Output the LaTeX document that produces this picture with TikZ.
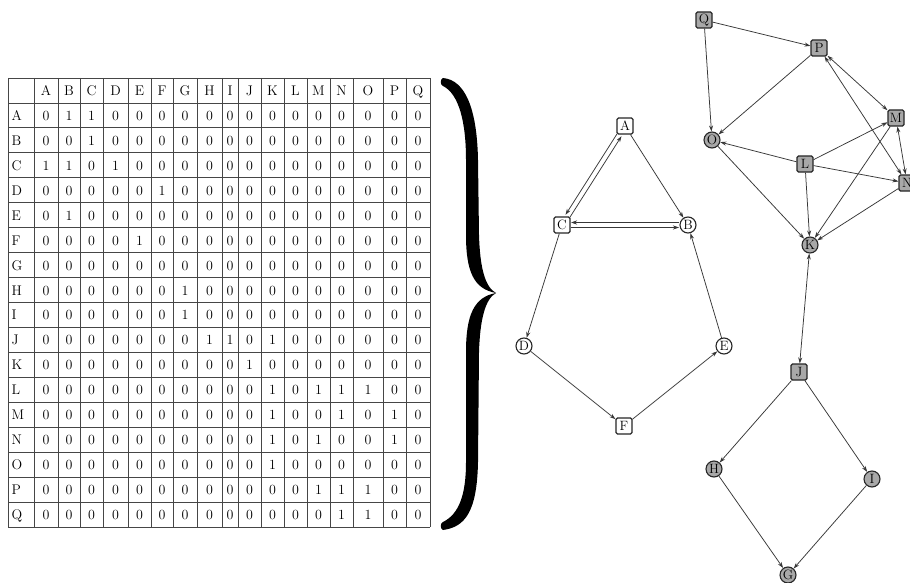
\documentclass[tikz,border=0pt]{standalone}
\usetikzlibrary{arrows.meta,calc}
\definecolor{edgecol}{RGB}{55,55,55}
\definecolor{nodegray}{RGB}{168,168,168}
\definecolor{gridcol}{RGB}{70,70,70}
\begin{document}
\begin{tikzpicture}[x=1pt,y=-1pt,
  cell/.style={anchor=base,inner sep=0pt,font=\fontsize{14}{16}\selectfont},
  nd/.style={draw=black!85,line width=1.1pt,inner sep=0pt,font=\fontsize{13.5}{14}\selectfont},
  sq/.style={nd,rectangle,rounded corners=1.5pt,minimum size=16pt},
  ci/.style={nd,circle,minimum size=16pt},
  wh/.style={fill=white},
  gy/.style={fill=nodegray},
  edge/.style={draw=edgecol,line width=0.75pt,-{Stealth[length=6pt,width=4pt]}},
  bedge/.style={draw=edgecol,line width=0.75pt,{Stealth[length=6pt,width=4pt]}-{Stealth[length=6pt,width=4pt]}},
  gridline/.style={draw=gridcol,line width=0.8pt}]
\clip (0,0) rectangle (910,583);
\fill[white] (0,0) rectangle (910,583);

% ---- table grid ----
\foreach \k in {0,...,18} \draw[gridline] (8,{78+24.944*\k}) -- (430,{78+24.944*\k});
\foreach \x in {8,34,58,80,103,128,151,173,197,222,238,261,284,307,330,353,383,406,430}
  \draw[gridline] (\x,78) -- (\x,527);

\def\colc{{46,69,91.5,115.5,139.5,162,185,209.5,230,249.5,272.5,295.5,318.5,341.5,368,394.5,418}}
\foreach \l [count=\c] in {A,...,Q} {
  \pgfmathsetmacro\cx{\colc[\c-1]}
  \node[cell] (h\l) at (\cx,95.5) {\l};
  \pgfmathsetmacro\ry{78+24.944*\c+17.5}
  \node[cell,anchor=base west] (r\l) at (11.5,\ry) {\l};
}
\foreach \vals [count=\r] in {
  {0,1,1,0,0,0,0,0,0,0,0,0,0,0,0,0,0},
  {0,0,1,0,0,0,0,0,0,0,0,0,0,0,0,0,0},
  {1,1,0,1,0,0,0,0,0,0,0,0,0,0,0,0,0},
  {0,0,0,0,0,1,0,0,0,0,0,0,0,0,0,0,0},
  {0,1,0,0,0,0,0,0,0,0,0,0,0,0,0,0,0},
  {0,0,0,0,1,0,0,0,0,0,0,0,0,0,0,0,0},
  {0,0,0,0,0,0,0,0,0,0,0,0,0,0,0,0,0},
  {0,0,0,0,0,0,1,0,0,0,0,0,0,0,0,0,0},
  {0,0,0,0,0,0,1,0,0,0,0,0,0,0,0,0,0},
  {0,0,0,0,0,0,0,1,1,0,1,0,0,0,0,0,0},
  {0,0,0,0,0,0,0,0,0,1,0,0,0,0,0,0,0},
  {0,0,0,0,0,0,0,0,0,0,1,0,1,1,1,0,0},
  {0,0,0,0,0,0,0,0,0,0,1,0,0,1,0,1,0},
  {0,0,0,0,0,0,0,0,0,0,1,0,1,0,0,1,0},
  {0,0,0,0,0,0,0,0,0,0,1,0,0,0,0,0,0},
  {0,0,0,0,0,0,0,0,0,0,0,0,1,1,1,0,0},
  {0,0,0,0,0,0,0,0,0,0,0,0,0,1,1,0,0}} {
  \foreach \v [count=\c] in \vals {
    \pgfmathsetmacro\cx{\colc[\c-1]}
    \pgfmathsetmacro\ry{78+24.944*\r+17.5}
    \node[cell] (v\r-\c) at (\cx,\ry) {\v};
  }
}

% ---- brace ----
\fill[black] (443,78) .. controls (465,80) and (477,108) .. (478,160)
 -- (479,235) .. controls (480,268) and (485,287) .. (496,293)
 .. controls (485,299) and (480,320) .. (479,352)
 -- (478,462) .. controls (477,512) and (465,527) .. (443,530)
 .. controls (440,529) and (440,523) .. (443,522)
 .. controls (459,514) and (466,495) .. (466,462)
 -- (466,352) .. controls (466,315) and (474,297) .. (496,293)
 .. controls (474,289) and (466,272) .. (466,235)
 -- (466,160) .. controls (466,122) and (459,94) .. (443,86)
 .. controls (440,85) and (440,79) .. (443,78) -- cycle;

% ---- left graph ----
\node[sq,wh] (A) at (625,126) {A};
\node[ci,wh] (B) at (688,225) {B};
\node[sq,wh] (C) at (562,225) {C};
\node[ci,wh] (D) at (524,346) {D};
\node[ci,wh] (E) at (724,346) {E};
\node[sq,wh] (F) at (624,426) {F};

% ---- right graph ----
\node[ci,gy] (G) at (788,575) {G};
\node[ci,gy] (H) at (714,469) {H};
\node[ci,gy] (I) at (872,479) {I};
\node[sq,gy] (J) at (799,372) {J};
\node[ci,gy] (K) at (810,245) {K};
\node[sq,gy] (L) at (805,164) {L};
\node[sq,gy] (M) at (896,118) {M};
\node[sq,gy] (N) at (907,183) {N};
\node[ci,gy] (O) at (712,140) {O};
\node[sq,gy] (P) at (819,48) {P};
\node[sq,gy] (Q) at (704,20) {Q};

% left edges
\draw[edge,shorten <=10.5pt,shorten >=10.5pt] ($(A)!2.5pt!-90:(C)$) -- ($(C)!2.5pt!90:(A)$);
\draw[edge,shorten <=10.5pt,shorten >=10.5pt] ($(C)!2.5pt!-90:(A)$) -- ($(A)!2.5pt!90:(C)$);
\draw[edge,shorten <=9pt,shorten >=9pt] ($(C)!2.5pt!-90:(B)$) -- ($(B)!2.5pt!90:(C)$);
\draw[edge,shorten <=9pt,shorten >=9pt] ($(B)!2.5pt!-90:(C)$) -- ($(C)!2.5pt!90:(B)$);
\draw[edge] (A) -- (B);
\draw[edge] (C) -- (D);
\draw[edge] (D) -- (F);
\draw[edge] (F) -- (E);
\draw[edge] (E) -- (B);

% right edges
\draw[edge] (Q) -- (P);
\draw[edge] (Q) -- (O);
\draw[edge] (P) -- (O);
\draw[edge] (L) -- (O);
\draw[edge] (L) -- (M);
\draw[edge] (L) -- (N);
\draw[edge] (L) -- (K);
\draw[edge] (M) -- (K);
\draw[edge] (N) -- (K);
\draw[edge] (O) -- (K);
\draw[bedge] (P) -- (M);
\draw[bedge] (P) -- (N);
\draw[bedge] (M) -- (N);
\draw[bedge] (J) -- (K);
\draw[edge] (J) -- (H);
\draw[edge] (J) -- (I);
\draw[edge] (H) -- (G);
\draw[edge] (I) -- (G);
\end{tikzpicture}
\end{document}
